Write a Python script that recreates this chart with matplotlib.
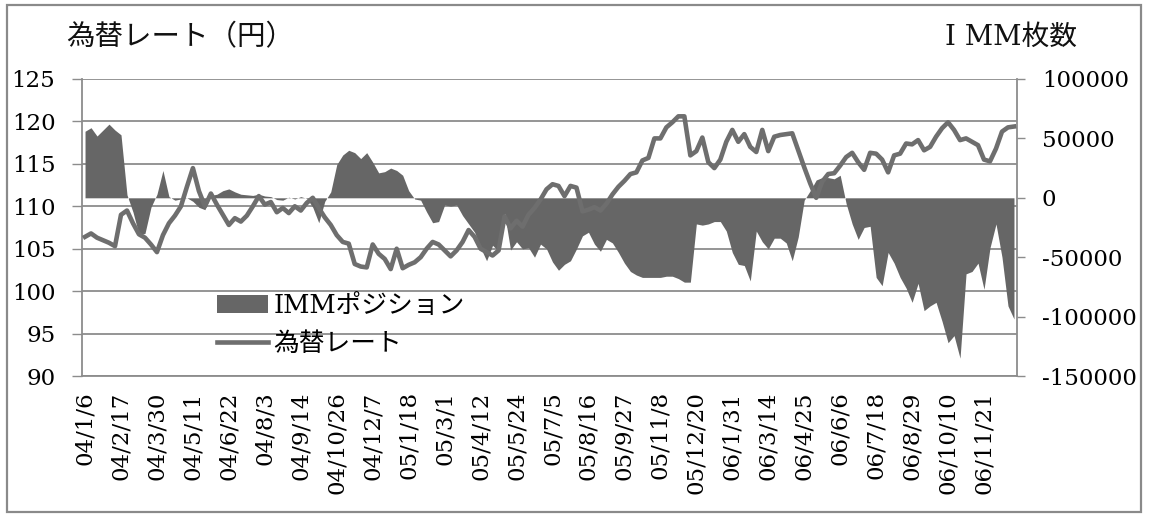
import matplotlib
matplotlib.use("Agg")
import matplotlib.pyplot as plt
from matplotlib.patches import Rectangle, Patch
from matplotlib.lines import Line2D
from matplotlib.font_manager import FontProperties
from matplotlib.ticker import FuncFormatter

plt.rcParams["font.family"] = ["DejaVu Serif", "Noto Sans CJK JP"]
plt.rcParams["axes.unicode_minus"] = False

# Weekly observations, 2004-01-06 .. 2006-12-26 (156 weeks)
weeks = list(range(156))

tick_labels = [
    "04/1/6", "04/2/17", "04/3/30", "04/5/11", "04/6/22", "04/8/3", "04/9/14",
    "04/10/26", "04/12/7", "05/1/18", "05/3/1", "05/4/12", "05/5/24", "05/7/5",
    "05/8/16", "05/9/27", "05/11/8", "05/12/20", "06/1/31", "06/3/14", "06/4/25",
    "06/6/6", "06/7/18", "06/8/29", "06/10/10", "06/11/21",
]

# USD/JPY rate (yen)
rate = [
    106.4, 106.8, 106.3, 106.0, 105.7, 105.3, 109.0, 109.5, 108.0, 106.7,
    106.3, 105.5, 104.6, 106.6, 108.0, 108.9, 110.0, 112.3, 114.5, 111.8,
    110.0, 111.5, 110.2, 109.0, 107.8, 108.6, 108.2, 108.9, 110.0, 111.2,
    110.2, 110.5, 109.3, 109.8, 109.2, 110.0, 109.5, 110.4, 111.0, 109.8,
    108.7, 107.8, 106.6, 105.8, 105.6, 103.2, 102.9, 102.8, 105.5, 104.4,
    103.8, 102.6, 105.0, 102.7, 103.1, 103.4, 104.0, 105.0, 105.8, 105.5,
    104.8, 104.1, 104.8, 105.8, 107.2, 106.4, 105.0, 104.6, 104.2, 104.8,
    108.8, 107.4, 108.3, 107.6, 109.0, 109.8, 110.8, 112.0, 112.6, 112.4,
    111.2, 112.4, 112.2, 109.4, 109.6, 109.9, 109.5, 110.3, 111.4, 112.3,
    113.0, 113.8, 114.0, 115.4, 115.7, 118.0, 118.0, 119.3, 119.9, 120.6,
    120.6, 116.0, 116.5, 118.1, 115.2, 114.5, 115.5, 117.6, 119.0, 117.6,
    118.5, 117.0, 116.4, 119.0, 116.5, 118.2, 118.4, 118.5, 118.6, 116.6,
    114.6, 112.7, 111.0, 112.9, 113.8, 113.9, 114.8, 115.8, 116.3, 115.2,
    114.3, 116.3, 116.2, 115.5, 114.0, 116.0, 116.2, 117.4, 117.3, 117.8,
    116.6, 117.0, 118.2, 119.2, 119.9, 119.0, 117.8, 118.0, 117.6, 117.2,
    115.5, 115.3, 116.8, 118.8, 119.3, 119.4,
]

# IMM yen net position (contracts)
imm = [
    56000, 59000, 52000, 57000, 62000, 57000, 53000, 2500, -12000, -31000,
    -30000, -8000, 3000, 23000, 1000, -2000, -1000, 0, -3000, -8000,
    -10000, 2000, 3000, 6000, 7500, 5000, 3000, 2500, 2000, 3000,
    1500, 1000, -1500, -2000, 500, -1000, 1000, -500, -8000, -21000,
    -3000, 5000, 28000, 36000, 40000, 38000, 33000, 38000, 30000, 21000,
    22000, 25000, 23000, 19000, 6000, -1000, -2000, -12000, -21000, -20000,
    -6000, -7000, -6000, -15000, -22000, -29000, -42000, -53000, -40000, -45000,
    -13000, -44000, -37000, -43000, -42000, -50000, -39000, -43000, -54000, -61000,
    -56000, -53000, -43000, -32000, -29000, -39000, -45000, -35000, -38000, -46000,
    -55000, -62000, -65000, -67000, -67000, -67000, -67000, -66000, -66000, -68000,
    -71000, -71000, -22000, -23000, -22000, -20000, -20000, -28000, -46000, -56000,
    -57000, -70000, -28000, -37000, -43000, -34000, -34000, -38000, -53000, -33000,
    -2000, 6000, 15000, 17000, 17000, 16000, 19000, -5000, -22000, -35000,
    -25000, -24000, -67000, -74000, -46000, -55000, -67000, -76000, -88000, -72000,
    -95000, -91000, -88000, -104000, -122000, -116000, -135000, -64000, -62000, -55000,
    -77000, -42000, -22000, -50000, -91000, -102000,
]

AREA_COLOR = "#666666"
LINE_COLOR = "#6e6e6e"
GRID_COLOR = "#8c8c8c"
TICK_SIZE = 16.5

fig = plt.figure(figsize=(11.49, 5.16), dpi=100)
ax = fig.add_axes([0.0714, 0.2713, 0.8137, 0.5756])

# left axis: exchange rate scale + gridlines
ax.set_xlim(-0.5, len(weeks) - 0.5)
ax.set_ylim(90, 125)
ax.set_yticks(range(90, 126, 5))
ax.grid(axis="y", color=GRID_COLOR, linewidth=1.3)
ax.set_axisbelow(True)
ax.set_xticks(range(0, 151, 6))
ax.set_xticklabels(tick_labels, rotation=90)
ax.tick_params(axis="x", length=0, pad=11, labelsize=TICK_SIZE)
ax.tick_params(axis="y", length=7.2, width=1.0, color=GRID_COLOR, pad=12,
               labelsize=TICK_SIZE, direction="out")
for side in ("top", "right"):
    ax.spines[side].set_visible(False)
for side in ("left", "bottom"):
    ax.spines[side].set_color(GRID_COLOR)
    ax.spines[side].set_linewidth(1.3)

# right axis: IMM position area
ax2 = ax.twinx()
ax2.set_ylim(-150000, 100000)
ax2.set_yticks(range(-150000, 100001, 50000))
ax2.yaxis.set_major_formatter(FuncFormatter(lambda v, p: f"{int(v)}"))
ax2.fill_between(weeks, imm, 0, color=AREA_COLOR, linewidth=0)
ax2.tick_params(axis="y", length=6, width=1.0, color=GRID_COLOR, pad=12,
                labelsize=TICK_SIZE, direction="out")
for side in ("top", "left", "bottom"):
    ax2.spines[side].set_visible(False)
ax2.spines["right"].set_color(GRID_COLOR)
ax2.spines["right"].set_linewidth(1.3)

# rate line drawn above the area
ax3 = ax.twinx()
ax3.set_ylim(90, 125)
ax3.plot(weeks, rate, color=LINE_COLOR, linewidth=3.3, solid_joinstyle="round")
ax3.axis("off")

# axis titles
cjk = ["Noto Sans CJK JP"]
mixed = ["DejaVu Serif", "Noto Sans CJK JP"]
fig.text(66 / 1149, 1 - 37 / 516, "為替レート（円）", fontsize=20.5, family=cjk,
         ha="left", va="center", color="#111111")
fig.text(1077 / 1149, 1 - 37 / 516, "I MM枚数", fontsize=20, family=mixed,
         ha="right", va="center", color="#111111")

# legend
handles = [Patch(facecolor=AREA_COLOR, edgecolor="none"),
           Line2D([], [], color=LINE_COLOR, linewidth=3.3)]
fig.legend(handles, ["IMMポジション", "為替レート"],
           loc="upper left", bbox_to_anchor=(217 / 1149, 1 - 293 / 516),
           frameon=False, borderpad=0, borderaxespad=0,
           handlelength=2.0, handletextpad=0.2, labelspacing=0.5,
           prop=FontProperties(family=mixed, size=18.5))

# outer chart frame
fig.add_artist(Rectangle((7 / 1149, 4 / 516), 1134 / 1149, 507 / 516,
                         transform=fig.transFigure, fill=False,
                         edgecolor="#8a8a8a", linewidth=1.6))

fig.savefig("out.png", dpi=100, facecolor="white")
